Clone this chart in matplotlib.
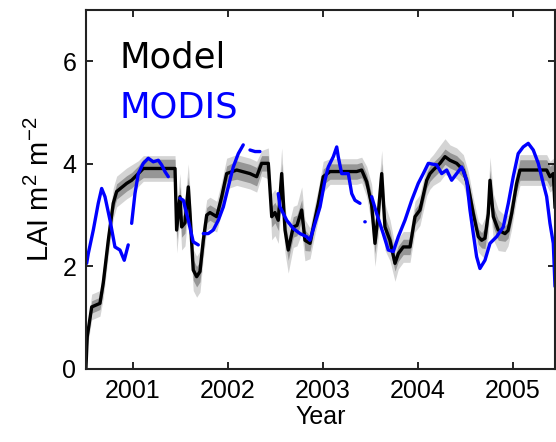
import numpy as np
import matplotlib
matplotlib.use("Agg")
import matplotlib.pyplot as plt

# model LAI (black line), decimal year vs LAI
model_year = [2000.505, 2000.518, 2000.565, 2000.652, 2000.687, 2000.740, 2000.792, 2000.828, 2000.934, 2000.986,
              2001.056, 2001.109, 2001.443, 2001.460, 2001.495, 2001.513, 2001.548, 2001.583, 2001.601, 2001.635,
              2001.671, 2001.706, 2001.741, 2001.777, 2001.811, 2001.882, 2001.935, 2001.987, 2002.093, 2002.233,
              2002.303, 2002.356, 2002.426, 2002.462, 2002.496, 2002.531, 2002.567, 2002.602, 2002.636, 2002.689,
              2002.728, 2002.778, 2002.812, 2002.865, 2002.900, 2002.953, 2003.005, 2003.076, 2003.357, 2003.410,
              2003.463, 2003.515, 2003.550, 2003.585, 2003.621, 2003.655, 2003.708, 2003.761, 2003.796, 2003.848,
              2003.919, 2003.972, 2004.024, 2004.095, 2004.130, 2004.164, 2004.235, 2004.288, 2004.340, 2004.411,
              2004.481, 2004.533, 2004.586, 2004.639, 2004.674, 2004.709, 2004.744, 2004.762, 2004.797, 2004.849,
              2004.920, 2004.952, 2004.990, 2005.043, 2005.078, 2005.359, 2005.394, 2005.429, 2005.447]
model_lai = [0.05, 0.63, 1.21, 1.28, 1.68, 2.51, 3.23, 3.46, 3.62, 3.68,
             3.81, 3.91, 3.91, 2.71, 3.36, 2.77, 2.85, 3.55, 3.03, 1.93,
             1.80, 1.90, 2.51, 3.00, 3.05, 2.97, 3.36, 3.81, 3.88, 3.81,
             3.75, 4.01, 4.01, 2.97, 3.05, 2.90, 3.81, 2.71, 2.32, 2.77,
             2.80, 3.10, 2.51, 2.45, 2.77, 3.23, 3.75, 3.85, 3.85, 3.88,
             3.65, 3.20, 2.45, 3.03, 3.81, 2.77, 2.51, 2.06, 2.25, 2.38,
             2.38, 2.97, 3.10, 3.68, 3.81, 3.88, 4.01, 4.14, 4.07, 4.01,
             3.88, 3.55, 3.03, 2.58, 2.51, 2.55, 3.03, 3.68, 2.97, 2.71,
             2.64, 2.70, 3.03, 3.62, 3.88, 3.88, 3.75, 3.81, 3.16]
# half widths of the grey uncertainty bands
band_dark = [0.05, 0.1, 0.12, 0.12, 0.15, 0.15, 0.15, 0.15, 0.15, 0.15,
             0.15, 0.18, 0.18, 0.2, 0.2, 0.2, 0.2, 0.2, 0.2, 0.2,
             0.2, 0.2, 0.2, 0.15, 0.15, 0.15, 0.15, 0.15, 0.18, 0.18,
             0.18, 0.15, 0.15, 0.2, 0.2, 0.2, 0.2, 0.2, 0.2, 0.2,
             0.2, 0.2, 0.2, 0.15, 0.15, 0.15, 0.15, 0.15, 0.15, 0.15,
             0.15, 0.2, 0.2, 0.2, 0.2, 0.2, 0.2, 0.15, 0.15, 0.15,
             0.15, 0.15, 0.15, 0.15, 0.15, 0.15, 0.15, 0.15, 0.15, 0.15,
             0.15, 0.15, 0.15, 0.15, 0.15, 0.2, 0.2, 0.2, 0.2, 0.2,
             0.15, 0.15, 0.15, 0.15, 0.2, 0.2, 0.2, 0.2, 0.2]
band_light = [0.1, 0.2, 0.25, 0.25, 0.3, 0.3, 0.3, 0.3, 0.3, 0.3,
              0.25, 0.25, 0.25, 0.45, 0.45, 0.45, 0.45, 0.45, 0.45, 0.4,
              0.4, 0.4, 0.35, 0.3, 0.3, 0.3, 0.3, 0.3, 0.3, 0.3,
              0.3, 0.25, 0.3, 0.45, 0.45, 0.45, 0.5, 0.45, 0.45, 0.4,
              0.4, 0.45, 0.4, 0.3, 0.3, 0.3, 0.3, 0.25, 0.25, 0.25,
              0.3, 0.4, 0.45, 0.45, 0.45, 0.45, 0.4, 0.35, 0.3, 0.3,
              0.3, 0.3, 0.3, 0.3, 0.3, 0.3, 0.35, 0.35, 0.3, 0.3,
              0.3, 0.3, 0.3, 0.3, 0.3, 0.4, 0.45, 0.45, 0.45, 0.4,
              0.35, 0.3, 0.3, 0.3, 0.3, 0.3, 0.3, 0.3, 0.3]

# MODIS LAI (blue), nan = gap in the record
modis_year = [2000.512, 2000.529, 2000.582, 2000.634, 2000.670, 2000.705, 2000.758, 2000.810, 2000.863, 2000.908,
              2000.950, np.nan,
              2000.986, 2001.021, 2001.056, 2001.109, 2001.161, 2001.214, 2001.267, 2001.302, 2001.337, 2001.372,
              np.nan,
              2001.495, 2001.530, 2001.583, 2001.635, 2001.688, np.nan,
              2001.741, 2001.793, 2001.846, 2001.899, 2001.952, 2002.004, 2002.057, 2002.110, 2002.162, np.nan,
              2002.233, 2002.286, 2002.338, np.nan,
              2002.531, 2002.549, 2002.620, 2002.689, 2002.760, 2002.830, 2002.865, 2002.918, 2002.971, 2003.023,
              2003.058, 2003.111, 2003.147, 2003.163, 2003.199, 2003.269, 2003.305, 2003.339, 2003.392, np.nan,
              2003.443, 2003.447, np.nan,
              2003.515, 2003.568, 2003.637, 2003.690, 2003.743, 2003.796, 2003.866, 2003.937, 2004.006, 2004.059,
              2004.112, 2004.200, 2004.253, 2004.306, 2004.358, 2004.411, 2004.464, 2004.516, 2004.551, 2004.586,
              2004.621, 2004.656, 2004.709, 2004.762, 2004.832, 2004.902, 2004.955, 2005.007, 2005.059, 2005.112,
              2005.165, 2005.218, 2005.271, 2005.323, 2005.359, 2005.394, 2005.429, 2005.447]
modis_lai = [2.06, 2.25, 2.71, 3.23, 3.52, 3.36, 2.90, 2.38, 2.32, 2.12,
             2.42, np.nan,
             2.84, 3.42, 3.81, 4.01, 4.11, 4.04, 4.07, 3.98, 3.85, 3.75,
             np.nan,
             3.33, 3.29, 2.90, 2.48, 2.42, np.nan,
             2.64, 2.64, 2.71, 2.90, 3.16, 3.55, 3.94, 4.20, 4.37, np.nan,
             4.27, 4.24, 4.24, np.nan,
             3.42, 3.16, 2.90, 2.74, 2.64, 2.58, 2.51, 2.84, 3.16, 3.68,
             3.94, 4.14, 4.33, 4.14, 3.81, 3.81, 3.42, 3.29, 3.23, np.nan,
             2.87, 2.87, np.nan,
             3.36, 3.03, 2.64, 2.32, 2.29, 2.58, 2.90, 3.29, 3.62, 3.81,
             4.01, 3.98, 3.81, 3.88, 3.68, 3.81, 3.94, 3.68, 3.10, 2.64,
             2.19, 1.96, 2.12, 2.45, 2.58, 2.77, 3.23, 3.75, 4.20, 4.33,
             4.40, 4.27, 4.01, 3.62, 3.36, 2.84, 2.45, 1.61]

year_ticks = [2001, 2002, 2003, 2004, 2005]
lai_ticks = [0, 2, 4, 6]

plt.rcParams["font.family"] = ["Liberation Sans", "DejaVu Sans"]
plt.rcParams["mathtext.default"] = "regular"

fig = plt.figure(figsize=(5.56, 4.42), dpi=100)
ax = fig.add_axes([86 / 556, 73 / 442, 469 / 556, 359 / 442])

t = np.array(model_year)
m = np.array(model_lai)
d = np.array(band_dark)
l = np.array(band_light)
ax.fill_between(t, m - l, m + l, color="#d4d4d4", lw=0)
ax.fill_between(t, m - d, m + d, color="#969696", lw=0)
ax.plot(t, m, color="black", lw=2.4)
ax.plot(modis_year, modis_lai, color="#0000ff", lw=2.4, solid_capstyle="round")

# labels written inside the axes instead of a legend
ax.text(2000.863, 5.87, "Model", color="black", fontsize=25.5, family="DejaVu Sans")
ax.text(2000.863, 4.91, "MODIS", color="#0000ff", fontsize=25.5, family="DejaVu Sans")

ax.set_xlim(2000.505, 2005.447)
ax.set_ylim(0, 7)
ax.set_xticks(year_ticks)
ax.set_yticks(lai_ticks)
ax.tick_params(direction="in", top=True, right=True, length=5, width=1.2,
               labelsize=18, pad=7)
for s in ax.spines.values():
    s.set_linewidth(1.5)
    s.set_color("#222222")
ax.set_xlabel("Year", fontsize=18, labelpad=2)
ax.set_ylabel("LAI m$^2$ m$^{-2}$", fontsize=21, labelpad=5)

fig.savefig("out.png", dpi=100)
